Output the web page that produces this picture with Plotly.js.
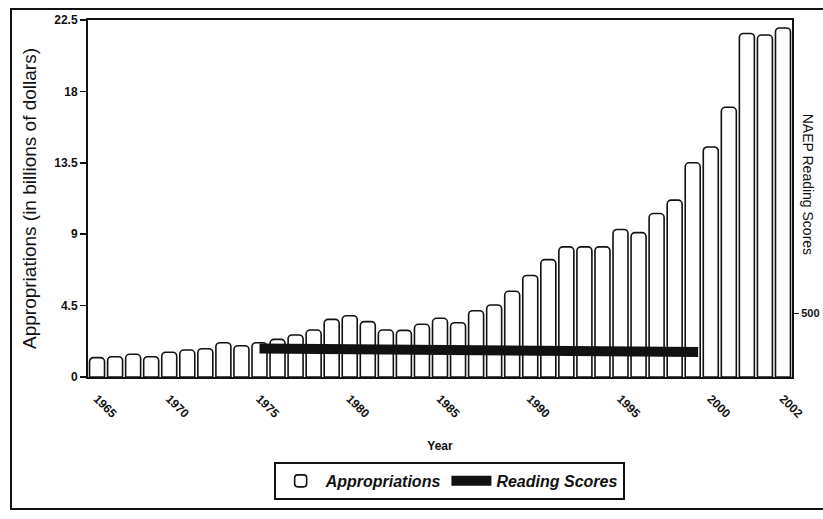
<!DOCTYPE html>
<html>
<head>
<meta charset="utf-8">
<script src="https://cdn.plot.ly/plotly-3.0.1.min.js"></script>
<style>
  html, body { margin: 0; padding: 0; background: #fff; }
  #wrap { position: relative; width: 823px; height: 519px; overflow: hidden; }
  #chart { position: absolute; left: 0; top: 0; width: 823px; height: 519px; }
  #frame { position: absolute; left: 10px; top: 8px; width: 830px; height: 498px;
           border: 2px solid #111; pointer-events: none; }
</style>
</head>
<body>
<div id="wrap">
  <div id="chart"></div>
  <div id="frame"></div>
</div>
<script>
// Years of the bars (categories)
var years = [1965,1966,1967,1968,1969,1970,1971,1972,1973,1974,1975,1976,1977,
             1978,1979,1980,1981,1982,1983,1984,1985,1986,1987,1988,1989,1990,
             1991,1992,1993,1994,1995,1996,1997,1998,1999,2000,2001,2002,2003];
// Appropriations, billions of dollars
var appropriations = [1.22,1.28,1.43,1.28,1.56,1.70,1.78,2.16,1.97,2.16,2.37,2.65,2.96,
                      3.63,3.86,3.49,2.96,2.94,3.32,3.70,3.42,4.18,4.54,5.40,6.40,7.40,
                      8.20,8.20,8.20,9.30,9.10,10.30,11.15,13.50,14.50,17.00,21.65,21.55,22.00];
// NAEP reading scores (secondary axis)
var scoreYears = [1974,1979,1984,1989,1994,1998.3];
var readingScores = [222,216,211,206,200,196];
// Tick labels as printed
var xTickVals = [1965,1969,1974,1979,1984,1989,1994,1999,2003];
var xTickText = ["1965","1970","1975","1980","1985","1990","1995","2000","2002"];
var yTickVals = [0,4.5,9,13.5,18,22.5];
var yTickText = ["0","4.5","9","13.5","18","22.5"];
var y2TickVals = [500];
var y2TickText = ["500"];

var fontFam = "Liberation Sans, Arial, sans-serif";

var traces = [
  {
    type: "bar", name: "Appropriations", x: years, y: appropriations,
    marker: { color: "#ffffff", line: { color: "#111", width: 1.6 }, cornerradius: 4 },
    hoverinfo: "x+y"
  },
  {
    type: "scatter", mode: "lines", name: "Reading Scores",
    x: scoreYears, y: readingScores, yaxis: "y2",
    line: { color: "#111", width: 10 }
  }
];

var layout = {
  width: 823, height: 519,
  margin: { l: 88, r: 31, t: 20, b: 142 },
  paper_bgcolor: "#fff", plot_bgcolor: "#fff",
  font: { family: fontFam, color: "#111" },
  barmode: "overlay", bargap: 0.17,
  showlegend: true,
  legend: {
    orientation: "h", x: 0.513, xanchor: "center", y: -0.238, yanchor: "top",
    bordercolor: "#111", borderwidth: 2, bgcolor: "#fff", itemwidth: 40,
    font: { family: fontFam, size: 16, weight: "bold", style: "italic", color: "#111" }
  },
  xaxis: {
    range: [1964.5, 2003.5], type: "linear",
    tickvals: xTickVals, ticktext: xTickText, tickangle: 45,
    tickfont: { family: fontFam, size: 12, weight: "bold" },
    ticklabelstandoff: 8,
    showline: true, linecolor: "#111", linewidth: 2, mirror: true,
    ticks: "", showgrid: false, zeroline: false,
    title: { text: "Year", font: { family: fontFam, size: 12, weight: "bold" }, standoff: 22 }
  },
  yaxis: {
    range: [0, 22.5], tickvals: yTickVals, ticktext: yTickText,
    tickfont: { family: fontFam, size: 12, weight: "bold" },
    showline: true, linecolor: "#111", linewidth: 2,
    ticks: "outside", ticklen: 6, tickwidth: 1.5, tickcolor: "#111",
    showgrid: false, zeroline: false,
    title: { text: "Appropriations (in billions of dollars)", font: { family: fontFam, size: 19 }, standoff: 13 }
  },
  yaxis2: {
    overlaying: "y", side: "right", range: [0, 2789],
    tickvals: y2TickVals, ticktext: y2TickText,
    tickfont: { family: fontFam, size: 11, weight: "bold" },
    showline: true, linecolor: "#111", linewidth: 2,
    ticks: "outside", ticklen: 5, tickcolor: "#111",
    showgrid: false, zeroline: false
  },
  annotations: [
    { text: "NAEP Reading Scores", xref: "paper", yref: "paper", x: 1.022, y: 0.54,
      xanchor: "center", yanchor: "middle", textangle: 90, showarrow: false,
      font: { family: fontFam, size: 14, color: "#111" } }
  ]
};

Plotly.newPlot("chart", traces, layout, { displayModeBar: false, staticPlot: true });
</script>
</body>
</html>
